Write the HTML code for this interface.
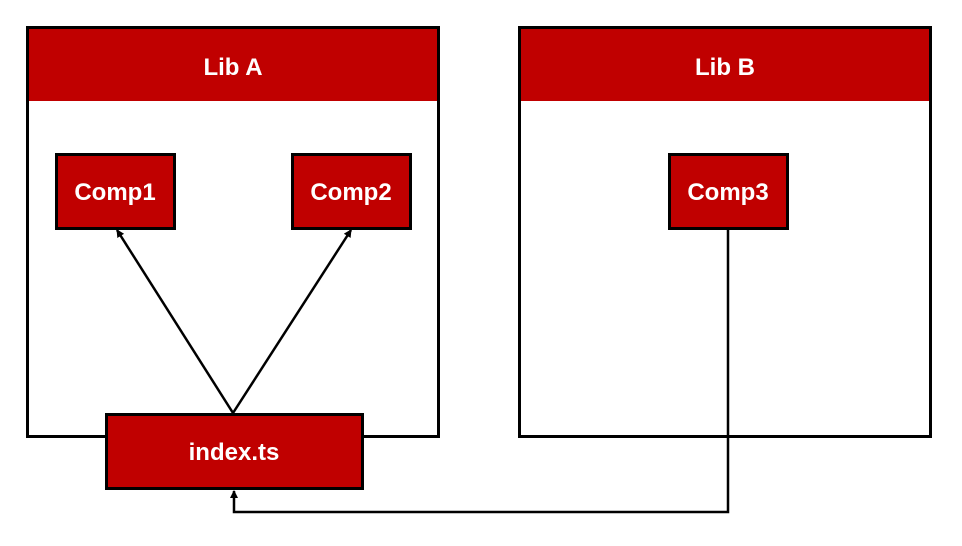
<!DOCTYPE html>
<html><head><style>body{margin:0;background:#fff}svg{display:block}text{font-family:"Liberation Sans",sans-serif;font-weight:bold;fill:#fff;font-size:24px}</style></head>
<body>
<svg width="962" height="546" viewBox="0 0 962 546" xmlns="http://www.w3.org/2000/svg">
<defs><marker id="a" markerWidth="8" markerHeight="8" refX="7" refY="4" orient="auto" markerUnits="userSpaceOnUse"><path d="M0,0 L8,4 L0,8z" fill="#000"/></marker></defs>
<rect x="27.5" y="27.5" width="411" height="409" fill="#fff" stroke="#000" stroke-width="3"/>
<rect x="29" y="29" width="408" height="72" fill="#c00000"/>
<text x="233" y="75" text-anchor="middle">Lib A</text>
<rect x="519.5" y="27.5" width="411" height="409" fill="#fff" stroke="#000" stroke-width="3"/>
<rect x="521" y="29" width="408" height="72" fill="#c00000"/>
<text x="725" y="75" text-anchor="middle">Lib B</text>
<rect x="56.5" y="154.5" width="118" height="74" fill="#c00000" stroke="#000" stroke-width="3"/>
<text x="115" y="200" text-anchor="middle">Comp1</text>
<rect x="292.5" y="154.5" width="118" height="74" fill="#c00000" stroke="#000" stroke-width="3"/>
<text x="351" y="200" text-anchor="middle">Comp2</text>
<rect x="669.5" y="154.5" width="118" height="74" fill="#c00000" stroke="#000" stroke-width="3"/>
<text x="728" y="200" text-anchor="middle">Comp3</text>
<line x1="233" y1="413" x2="117" y2="230" stroke="#000" stroke-width="2.5" marker-end="url(#a)"/>
<line x1="233" y1="413" x2="351" y2="230" stroke="#000" stroke-width="2.5" marker-end="url(#a)"/>
<rect x="106.5" y="414.5" width="256" height="74" fill="#c00000" stroke="#000" stroke-width="3"/>
<text x="234" y="460" text-anchor="middle">index.ts</text>
<polyline points="728,230 728,512 234,512 234,491" fill="none" stroke="#000" stroke-width="2.5" marker-end="url(#a)"/>
</svg>
</body></html>
